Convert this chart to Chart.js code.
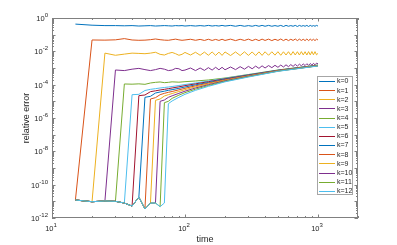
<!DOCTYPE html>
<html>
<head>
<meta charset="utf-8">
<script src="https://cdn.jsdelivr.net/npm/chart.js@4.4.1/dist/chart.umd.min.js"></script>
<style>
  html, body { margin: 0; padding: 0; background: #fff; }
  #errChart { display: block; }
</style>
</head>
<body>
<canvas id="errChart" width="397" height="245"></canvas>
<script>
// Time grids
const time = [15, 20, 25, 30, 35, 40, 45, 50, 55, 60, 65, 70, 75, 80, 85, 90, 95, 100,
    110, 120, 130, 140, 150, 160, 170, 180, 190, 200,
    220, 240, 260, 280, 300, 320, 340, 360, 380, 400,
    425, 450, 475, 500, 525, 550, 575, 600, 625, 650, 675, 700, 725, 750,
    775, 800, 825, 850, 875, 900, 925, 950, 975, 1000];
const timeB = [15, 20, 25, 30, 35, 40, 45, 50, 55, 60, 65, 70, 75, 80, 90, 100, 120, 150, 200, 300, 500, 1000];

// shared floor before each curve jumps up (t = 15..70)
const baseline = [1.2e-11, 9.5e-12, 1.05e-11, 1.0e-11, 7.9e-12, 5.2e-12, 1.8e-11, 3.5e-12, 7.9e-12, 7.9e-12, 4.8e-12, 7.9e-12];

// Values after the jump (k=0 has no floor)
const k0 = [0.43, 0.37, 0.35, 0.35, 0.34, 0.35, 0.33, 0.34, 0.35, 0.33, 0.34, 0.35, 0.34, 0.33, 0.35, 0.34, 0.35, 0.33,
    0.35, 0.33, 0.35, 0.33, 0.36, 0.33, 0.35, 0.33, 0.36, 0.33,
    0.36, 0.32, 0.36, 0.32, 0.35, 0.32, 0.36, 0.32, 0.36, 0.32,
    0.36, 0.32, 0.35, 0.32, 0.36, 0.31, 0.36, 0.32, 0.35, 0.32, 0.36, 0.31, 0.36, 0.32, 0.35, 0.32, 0.36, 0.31, 0.36, 0.32, 0.35, 0.32, 0.36, 0.33];
const k1 = [0.048, 0.047, 0.049, 0.058, 0.048, 0.046, 0.047, 0.05, 0.055, 0.05, 0.047, 0.046, 0.05, 0.054, 0.049, 0.046, 0.048,
    0.053, 0.046, 0.052, 0.045, 0.053, 0.045, 0.052, 0.045, 0.053, 0.045,
    0.054, 0.044, 0.053, 0.045, 0.054, 0.044, 0.053, 0.044, 0.054, 0.045,
    0.054, 0.044, 0.053, 0.045, 0.055, 0.044, 0.054, 0.044, 0.053, 0.045, 0.055, 0.044, 0.054, 0.045, 0.053, 0.044, 0.055, 0.044, 0.054, 0.045, 0.053, 0.044, 0.054, 0.048];
const k2 = [0.0078, 0.0058, 0.0068, 0.0078, 0.0075, 0.0072, 0.0078, 0.0088, 0.0066, 0.006, 0.0075, 0.0086, 0.0072, 0.0058, 0.0066, 0.0086,
    0.006, 0.0088, 0.0058, 0.009, 0.0058, 0.0092, 0.0057, 0.009, 0.0057, 0.0092,
    0.0056, 0.0092, 0.0056, 0.0093, 0.0057, 0.0092, 0.0056, 0.0093, 0.0057, 0.0094,
    0.0058, 0.0094, 0.0059, 0.0095, 0.0058, 0.0094, 0.006, 0.0095, 0.0059, 0.0096, 0.006, 0.0095, 0.006, 0.0096, 0.0061, 0.0095, 0.006, 0.0096, 0.0061, 0.0097, 0.0062, 0.0096, 0.0062, 0.0075];
const k3 = [7.6e-4, 7.0e-4, 8.5e-4, 9.5e-4, 8.0e-4, 7.0e-4, 8.0e-4, 9.5e-4, 8.5e-4, 7.0e-4, 7.5e-4, 9.5e-4, 9.0e-4, 7.0e-4, 7.5e-4,
    1.0e-3, 7.0e-4, 1.0e-3, 7.2e-4, 1.05e-3, 7.5e-4, 1.1e-3, 7.8e-4, 1.1e-3, 7.8e-4,
    1.15e-3, 8.0e-4, 1.2e-3, 8.5e-4, 1.25e-3, 9.0e-4, 1.3e-3, 9.5e-4, 1.35e-3, 1.0e-3,
    1.4e-3, 1.05e-3, 1.45e-3, 1.1e-3, 1.5e-3, 1.15e-3, 1.55e-3, 1.2e-3, 1.6e-3, 1.25e-3, 1.65e-3, 1.3e-3, 1.7e-3, 1.35e-3, 1.75e-3, 1.4e-3, 1.8e-3, 1.45e-3, 1.85e-3, 1.5e-3, 1.9e-3, 1.55e-3, 1.95e-3, 1.8e-3];
const k4 = [1.1e-4, 1.07e-4, 1.12e-4, 1.05e-4, 1.26e-4, 1.38e-4, 1.45e-4, 1.32e-4, 1.38e-4, 1.48e-4, 1.41e-4, 1.51e-4, 1.66e-4, 1.91e-4, 2.51e-4, 4.07e-4, 7.59e-4, 1.51e-3];
const k5 = [2.5e-5, 2.63e-5, 4.47e-5, 5.25e-5, 5.75e-5, 6.31e-5, 6.76e-5, 7.24e-5, 7.76e-5, 8.91e-5, 1.02e-4, 1.26e-4, 1.66e-4, 2.4e-4, 3.98e-4, 7.41e-4, 1.48e-3];
const k6 = [2.19e-5, 2.4e-5, 3.8e-5, 4.27e-5, 4.79e-5, 5.25e-5, 5.75e-5, 6.31e-5, 7.41e-5, 8.71e-5, 1.12e-4, 1.51e-4, 2.24e-4, 3.8e-4, 7.24e-4, 1.45e-3];
const k7 = [1.74e-5, 2.0e-5, 3.16e-5, 3.63e-5, 4.07e-5, 4.57e-5, 5.01e-5, 6.03e-5, 7.24e-5, 9.77e-5, 1.35e-4, 2.09e-4, 3.63e-4, 7.08e-4, 1.41e-3];
const k8 = [1.38e-5, 1.66e-5, 2.51e-5, 3.02e-5, 3.47e-5, 3.89e-5, 4.9e-5, 6.03e-5, 8.51e-5, 1.23e-4, 1.95e-4, 3.47e-4, 6.92e-4, 1.38e-3];
const k9 = [1.15e-5, 1.38e-5, 2.09e-5, 2.51e-5, 2.95e-5, 3.89e-5, 5.01e-5, 7.41e-5, 1.12e-4, 1.82e-4, 3.31e-4, 6.76e-4, 1.38e-3];
const k10 = [1.0e-5, 1.2e-5, 1.74e-5, 2.14e-5, 3.02e-5, 4.07e-5, 6.31e-5, 1.0e-4, 1.7e-4, 3.16e-4, 6.61e-4, 1.35e-3];
const k11 = [8.32e-6, 1.0e-5, 1.51e-5, 2.34e-5, 3.31e-5, 5.37e-5, 8.91e-5, 1.58e-4, 3.02e-4, 6.46e-4, 1.35e-3];
const k12 = [7.24e-6, 1.05e-5, 1.74e-5, 2.63e-5, 4.57e-5, 7.94e-5, 1.48e-4, 2.88e-4, 6.31e-4, 1.32e-3];

const seriesLabels = ['k=0', 'k=1', 'k=2', 'k=3', 'k=4', 'k=5', 'k=6', 'k=7', 'k=8', 'k=9', 'k=10', 'k=11', 'k=12'];
const seriesValues = [k0, k1, k2, k3, k4, k5, k6, k7, k8, k9, k10, k11, k12];
const matlabColors = ['#0072BD', '#D95319', '#EDB120', '#7E2F8E', '#77AC30', '#4DBEEE', '#A2142F'];

// Ticks
const xTicks = [10, 100, 1000];
const xTickExps = ['1', '2', '3'];
const yTicks = [1, 1e-2, 1e-4, 1e-6, 1e-8, 1e-10, 1e-12];
const yTickExps = ['0', '-2', '-4', '-6', '-8', '-10', '-12'];

const FONT = '"Liberation Sans", Arial, Helvetica, sans-serif';
const TEXT = '#1f1f1f';

const datasets = seriesValues.map((tail, k) => {
    const grid = k <= 3 ? time : timeB;
    const vals = baseline.slice(0, k).concat(tail);
    return {
        label: seriesLabels[k],
        data: vals.map((v, i) => ({ x: grid[i], y: v })),
        borderColor: matlabColors[k % 7],
        backgroundColor: matlabColors[k % 7],
        borderWidth: 1,
        pointRadius: 0,
        tension: 0,
        fill: false,
        order: 12 - k   // later series on top, like MATLAB
    };
});

// Box, inward ticks and power-of-ten labels
const axesBox = {
    id: 'axesBox',
    afterDatasetsDraw(chart) {
        const { ctx, chartArea: a, scales: { x, y } } = chart;
        ctx.save();
        ctx.strokeStyle = '#808080';
        ctx.lineWidth = 1;
        ctx.beginPath();
        const tick = (px, major, horiz) => {
            const len = major ? 3.5 : 2;
            const p = Math.round(px) + 0.5;
            if (horiz) {
                ctx.moveTo(p, a.bottom); ctx.lineTo(p, a.bottom - len);
                ctx.moveTo(p, a.top); ctx.lineTo(p, a.top + len);
            } else {
                ctx.moveTo(a.left, p); ctx.lineTo(a.left + len, p);
                ctx.moveTo(a.right, p); ctx.lineTo(a.right - len, p);
            }
        };
        for (let d = 10; d <= 1000; d *= 10) {
            for (let m = 1; m <= 9; m++) {
                const v = d * m;
                if (v > x.max) break;
                tick(x.getPixelForValue(v), m === 1, true);
            }
        }
        for (let e = -12; e <= 0; e++) {
            const d = Math.pow(10, e);
            tick(y.getPixelForValue(d), true, false);
            if (e < 0) {
                for (let m = 2; m <= 9; m++) tick(y.getPixelForValue(d * m), false, false);
            }
        }
        ctx.stroke();
        ctx.strokeRect(a.left + 0.5, a.top + 0.5, a.right - a.left - 1, a.bottom - a.top - 1);

        // tick labels
        ctx.fillStyle = TEXT;
        ctx.textBaseline = 'middle';
        ctx.textAlign = 'left';
        const big = '7.5px ' + FONT, small = '6px ' + FONT;
        const drawPow = (exp, left, cy) => {
            ctx.font = big;
            ctx.fillText('10', left, cy);
            const w = ctx.measureText('10').width;
            ctx.font = small;
            ctx.fillText(exp, left + w, cy - 3.5);
        };
        const powWidth = (exp) => {
            ctx.font = big; const w1 = ctx.measureText('10').width;
            ctx.font = small; const w2 = ctx.measureText(exp).width;
            return w1 + w2;
        };
        yTicks.forEach((v, i) => {
            const w = powWidth(yTickExps[i]);
            drawPow(yTickExps[i], a.left - 4 - w, y.getPixelForValue(v) + 1);
        });
        xTicks.forEach((v, i) => {
            const w = powWidth(xTickExps[i]);
            drawPow(xTickExps[i], x.getPixelForValue(v) - w / 2 - 1, a.bottom + 11);
        });
        ctx.restore();
    },
    afterDraw(chart) {
        // legend box inside the axes, right side
        const { ctx, chartArea: a } = chart;
        const left = a.right - 41, right = a.right - 5, top = 76, bottom = 195;
        ctx.save();
        ctx.fillStyle = '#fff';
        ctx.fillRect(left, top, right - left, bottom - top);
        ctx.strokeStyle = '#a6a6a6';
        ctx.lineWidth = 1;
        ctx.strokeRect(left + 0.5, top + 0.5, right - left - 1, bottom - top - 1);
        ctx.font = '7px ' + FONT;
        ctx.textBaseline = 'middle';
        ctx.textAlign = 'left';
        chart.data.datasets.forEach((ds, i) => {
            const yy = top + 5 + i * 9.15;
            ctx.strokeStyle = ds.borderColor;
            ctx.beginPath();
            ctx.moveTo(left + 2, Math.round(yy) + 0.5);
            ctx.lineTo(left + 18, Math.round(yy) + 0.5);
            ctx.stroke();
            ctx.fillStyle = TEXT;
            ctx.fillText(ds.label, left + 20, yy + 0.5);
        });
        ctx.restore();
    }
};

const ctx = document.getElementById('errChart').getContext('2d');
const errChart = new Chart(ctx, {
    type: 'line',
    data: { datasets },
    options: {
        responsive: false,
        animation: false,
        layout: { padding: { left: 0, right: 39, top: 18, bottom: 0 } },
        plugins: {
            legend: { display: false },
            tooltip: { enabled: false }
        },
        scales: {
            x: {
                type: 'logarithmic',
                min: 10,
                max: 2000,
                grid: { display: false },
                border: { display: false },
                ticks: { display: false },
                title: {
                    display: true,
                    text: 'time',
                    color: TEXT,
                    font: { family: FONT, size: 9 },
                    padding: { top: 0, bottom: 0 }
                },
                afterFit: (scale) => { scale.height = 27; }
            },
            y: {
                type: 'logarithmic',
                min: 1e-12,
                max: 1,
                grid: { display: false },
                border: { display: false },
                ticks: { display: false },
                title: {
                    display: true,
                    text: 'relative error',
                    color: TEXT,
                    font: { family: FONT, size: 9 },
                    padding: { top: 21, bottom: 0 }
                },
                afterFit: (scale) => { scale.width = 52; }
            }
        }
    },
    plugins: [axesBox]
});
</script>
</body>
</html>
